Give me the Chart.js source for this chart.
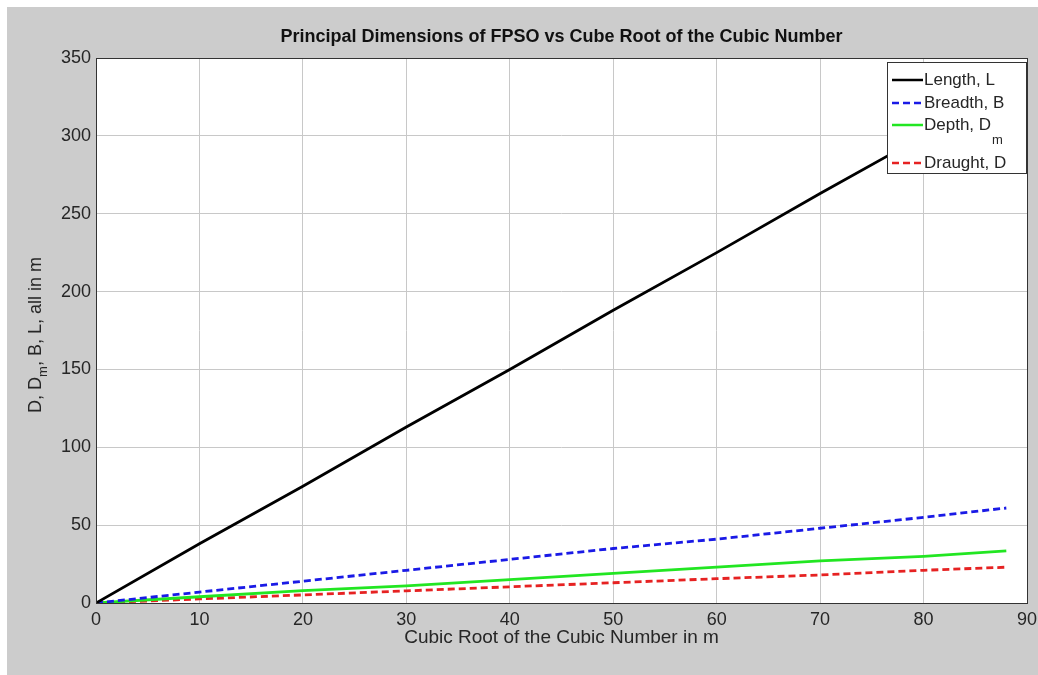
<!DOCTYPE html>
<html>
<head>
<meta charset="utf-8">
<script src="https://cdn.jsdelivr.net/npm/chart.js@4.4.1/dist/chart.umd.min.js"></script>
<style>
  html, body { margin: 0; padding: 0; background: #fff; }
  #wrap { position: absolute; left: 0; top: 0; width: 1038px; height: 675px; }
</style>
</head>
<body>
<div id="wrap"><canvas id="chart" width="1038" height="675"></canvas></div>
<script>
// values
const xValues = [0, 10, 20, 30, 40, 50, 60, 70, 80, 88];
const lengthL = [0, 38, 75, 113, 150, 188, 225, 263, 300, 330];
const breadthB = [0, 7, 14, 21, 28, 35, 41, 48, 55, 61];
const depthDm = [0, 4, 8, 11, 15, 19, 23, 27, 30, 33.5];
const draughtD = [0, 2.6, 5.2, 7.8, 10.4, 13, 15.6, 18, 21, 23];

const xTicks = [0, 10, 20, 30, 40, 50, 60, 70, 80, 90];
const yTicks = [0, 50, 100, 150, 200, 250, 300, 350];

const FONT = '"Liberation Sans", Arial, sans-serif';
const TEXT = '#262626';

const toPoints = (ys) => ys.map((y, i) => ({ x: xValues[i], y }));

const legendItems = [
    { label: 'Length, L', sub: '', color: '#000000', dash: [] },
    { label: 'Breadth, B', sub: '', color: '#1a1ae6', dash: [7, 4] },
    { label: 'Depth, D', sub: 'm', color: '#22e622', dash: [] },
    { label: 'Draught, D', sub: '', color: '#e62222', dash: [7, 4] },
];

const matlabDecor = {
    id: 'matlabDecor',
    beforeDraw(chart) {
        const { ctx, chartArea: a } = chart;
        ctx.save();
        ctx.fillStyle = '#cccccc';
        ctx.fillRect(7, 7, chart.width - 7, chart.height - 7);
        ctx.fillStyle = '#ffffff';
        ctx.fillRect(a.left, a.top, a.right - a.left, a.bottom - a.top);
        ctx.restore();
    },
    afterDraw(chart) {
        const { ctx, chartArea: a } = chart;
        ctx.save();

        // axes box
        ctx.strokeStyle = '#333333';
        ctx.lineWidth = 1;
        ctx.strokeRect(a.left + 0.5, a.top + 0.5, a.right - a.left, a.bottom - a.top);

        // title
        ctx.fillStyle = '#111111';
        ctx.font = `bold 18px ${FONT}`;
        ctx.textAlign = 'center';
        ctx.textBaseline = 'middle';
        ctx.fillText('Principal Dimensions of FPSO vs Cube Root of the Cubic Number', (a.left + a.right) / 2, 37);

        // x axis title
        ctx.fillStyle = TEXT;
        ctx.font = `19px ${FONT}`;
        ctx.fillText('Cubic Root of the Cubic Number in m', (a.left + a.right) / 2, 638);

        // y axis title with subscript
        ctx.translate(36, 335);
        ctx.rotate(-Math.PI / 2);
        const main = `18px ${FONT}`;
        const small = `13px ${FONT}`;
        const parts = [['D, D', main, 0], ['m', small, 7], [', B, L, all in m', main, 0]];
        let total = 0;
        parts.forEach(([t, f]) => { ctx.font = f; total += ctx.measureText(t).width; });
        let px = -total / 2;
        ctx.textAlign = 'left';
        parts.forEach(([t, f, dy]) => {
            ctx.font = f;
            ctx.fillText(t, px, dy);
            px += ctx.measureText(t).width;
        });
        ctx.setTransform(1, 0, 0, 1, 0, 0);

        // legend
        const lx = 887, ly = 62, lw = a.right - lx, lh = 111;
        ctx.fillStyle = '#ffffff';
        ctx.fillRect(lx, ly, lw, lh);
        ctx.strokeStyle = '#333333';
        ctx.strokeRect(lx + 0.5, ly + 0.5, lw - 1, lh);
        const rows = [80, 103, 125, 163];
        legendItems.forEach((item, i) => {
            const y = rows[i];
            ctx.strokeStyle = item.color;
            ctx.lineWidth = 2.5;
            ctx.setLineDash(item.dash);
            ctx.beginPath();
            ctx.moveTo(892, y);
            ctx.lineTo(923, y);
            ctx.stroke();
            ctx.setLineDash([]);
            ctx.fillStyle = TEXT;
            ctx.font = `17px ${FONT}`;
            ctx.textAlign = 'left';
            ctx.textBaseline = 'middle';
            ctx.fillText(item.label, 924, y);
            if (item.sub) {
                const w = ctx.measureText(item.label).width;
                ctx.font = `13px ${FONT}`;
                ctx.fillText(item.sub, 925 + w, y + 15);
            }
        });
        ctx.restore();
    },
};

const makeSet = (label, data, color, dash) => ({
    label,
    data: toPoints(data),
    borderColor: color,
    borderWidth: 2.8,
    borderDash: dash,
    pointRadius: 0,
    fill: false,
    tension: 0,
});

new Chart(document.getElementById('chart'), {
    type: 'line',
    data: {
        datasets: [
            makeSet('Length, L', lengthL, legendItems[0].color, legendItems[0].dash),
            makeSet('Breadth, B', breadthB, legendItems[1].color, legendItems[1].dash),
            makeSet('Depth, Dm', depthDm, legendItems[2].color, legendItems[2].dash),
            makeSet('Draught, D', draughtD, legendItems[3].color, legendItems[3].dash),
        ],
    },
    options: {
        responsive: false,
        animation: false,
        layout: { padding: { left: 0, top: 58, right: 11, bottom: 0 } },
        plugins: {
            legend: { display: false },
            title: { display: false },
            tooltip: { enabled: false },
        },
        scales: {
            x: {
                type: 'linear',
                min: 0,
                max: 90,
                afterFit: (scale) => {
                    scale.height = 72;
                    scale.paddingLeft = 0;
                    scale.paddingRight = 0;
                },
                afterBuildTicks: (scale) => { scale.ticks = xTicks.map((v) => ({ value: v })); },
                grid: { color: '#c8c8c8', lineWidth: 1, drawTicks: false },
                border: { display: false },
                ticks: { color: TEXT, font: { family: FONT, size: 18 }, padding: 6, maxRotation: 0 },
            },
            y: {
                min: 0,
                max: 350,
                afterFit: (scale) => {
                    scale.width = 96;
                    scale.paddingTop = 0;
                    scale.paddingBottom = 0;
                },
                afterBuildTicks: (scale) => { scale.ticks = yTicks.map((v) => ({ value: v })); },
                grid: { color: '#c8c8c8', lineWidth: 1, drawTicks: false },
                border: { display: false },
                ticks: { color: TEXT, font: { family: FONT, size: 18 }, padding: 5 },
            },
        },
    },
    plugins: [matlabDecor],
});
</script>
</body>
</html>
